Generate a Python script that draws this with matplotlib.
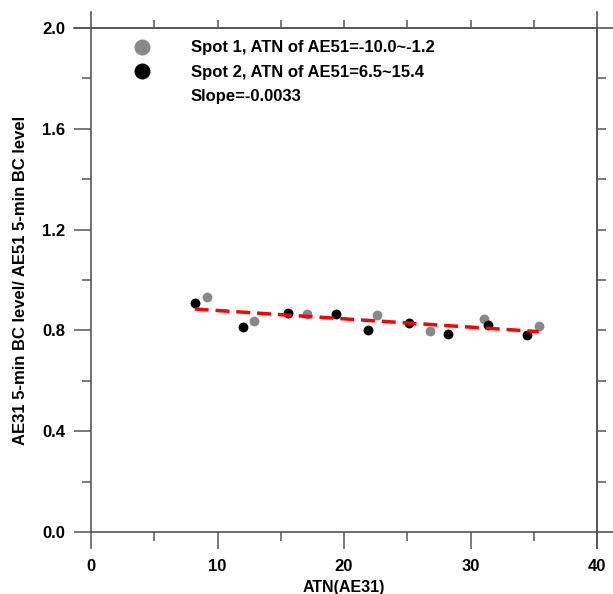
import numpy as np
import matplotlib
matplotlib.use('Agg')
import matplotlib.pyplot as plt
from matplotlib.lines import Line2D
from matplotlib.ticker import MultipleLocator

# spot 1 (grey) and spot 2 (black) points
spot1_x = [9.2, 12.9, 17.1, 22.6, 26.8, 31.1, 35.4]
spot1_y = [0.934, 0.839, 0.864, 0.861, 0.798, 0.847, 0.816]
spot2_x = [8.2, 12.0, 15.6, 19.4, 21.9, 25.1, 28.2, 31.4, 34.5]
spot2_y = [0.907, 0.812, 0.868, 0.865, 0.802, 0.831, 0.784, 0.821, 0.782]
slope = -0.0033
intercept = 0.912

labels = ['Spot 1, ATN of AE51=-10.0~-1.2', 'Spot 2, ATN of AE51=6.5~15.4', 'Slope=-0.0033']

plt.rcParams['font.family'] = ['Liberation Sans', 'DejaVu Sans']
plt.rcParams['font.weight'] = 'bold'
plt.rcParams['font.size'] = 12

fig = plt.figure(figsize=(6.13, 5.94), dpi=100)
ax = fig.add_axes([91/613, 1-532/594, 506/613, 504/594])

spine_c = '#555555'
ax.scatter(spot1_x, spot1_y, s=50, color='#888888', zorder=3, linewidths=0)
ax.scatter(spot2_x, spot2_y, s=50, color='black', zorder=3, linewidths=0)
allx = np.array(spot1_x + spot2_x)
xl = np.array([allx.min(), allx.max()])
ax.plot(xl, intercept + slope*xl, color='red', ls=(0, (4, 2)), lw=2.5, zorder=4)

ax.set_xlim(0, 40)
ax.set_ylim(0, 2.0)
ax.xaxis.set_major_locator(MultipleLocator(10))
ax.xaxis.set_minor_locator(MultipleLocator(5))
ax.yaxis.set_major_locator(MultipleLocator(0.4))
ax.yaxis.set_minor_locator(MultipleLocator(0.2))
ax.yaxis.set_major_formatter(matplotlib.ticker.FormatStrFormatter('%.1f'))
ax.tick_params(which='major', direction='out', length=12.5, width=1.1, color=spine_c, labelsize=12)
ax.tick_params(which='minor', direction='out', length=6.5, width=1.1, color=spine_c)
ax.tick_params(axis='y', pad=6)
ax.tick_params(axis='x', pad=7)
for s in ax.spines.values():
    s.set_color(spine_c)
    s.set_linewidth(1.2)

# ticks on the top and right side
top = ax.secondary_xaxis('top')
top.set_xticks(np.arange(5, 40, 5))
top.tick_params(direction='out', length=6, width=1.1, color=spine_c, labeltop=False)
top.spines['top'].set_visible(False)
right = ax.secondary_yaxis('right')
right.set_yticks(np.arange(0.2, 2.0, 0.2))
right.tick_params(direction='out', length=6.5, width=1.1, color=spine_c, labelright=False)
right.spines['right'].set_visible(False)

# axis lines running past the corners
ex = 16/504
ey = 16/506
ax.axvline(0, ymin=1, ymax=1+ex, color=spine_c, lw=1.2, clip_on=False)
ax.axvline(40, ymin=-ex, ymax=1+ex, color=spine_c, lw=1.2, clip_on=False)
ax.axhline(2.0, xmin=-17/506, xmax=1+ey, color=spine_c, lw=1.2, clip_on=False)
ax.axhline(0, xmin=1, xmax=1+ey, color=spine_c, lw=1.2, clip_on=False)

ax.set_xlabel('ATN(AE31)', fontsize=11.5, fontweight='bold', labelpad=4)
ax.set_ylabel('AE31 5-min BC level/ AE51 5-min BC level', fontsize=12, fontweight='bold', labelpad=10)

handles = [Line2D([], [], ls='none', marker='o', ms=11.5, color='#888888', mec='none'),
           Line2D([], [], ls='none', marker='o', ms=11.5, color='black', mec='none'),
           Line2D([], [], ls='none', marker='none')]
ax.legend(handles, labels, loc='upper left', bbox_to_anchor=(0.047, 1.005), frameon=False,
          handletextpad=2.17, labelspacing=0.55, fontsize=12, handlelength=1.5)

fig.savefig('out.png', dpi=100)
